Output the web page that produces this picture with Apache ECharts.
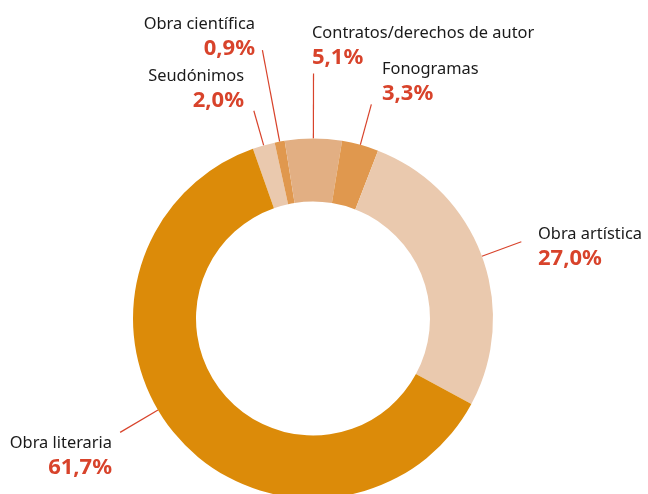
<!DOCTYPE html>
<html>
<head>
<meta charset="utf-8">
<script src="https://cdn.jsdelivr.net/npm/echarts@6/dist/echarts.min.js"></script>
<style>
  html, body { margin: 0; padding: 0; background: #ffffff; }
  #chart { width: 648px; height: 494px; }
</style>
</head>
<body>
<div id="chart"></div>
<script>
// Registro por tipo de obra (%)
const categories = ['Seudónimos', 'Obra científica', 'Contratos/derechos de autor', 'Fonogramas', 'Obra artística', 'Obra literaria'];
const shares = [2.0, 0.9, 5.1, 3.3, 27.0, 61.7];
const sliceColors = ['#EAC9AE', '#E0984E', '#E2AF83', '#E0984E', '#EAC9AE', '#DC8B09'];

// Ring geometry and label placement (leader length beyond the ring, angular nudge, label box)
const CENTER = [313, 318.5];
const RADIUS = [117, 180];
const START_ANGLE = 109.5;
const labelPlacement = [
  { len: 36, shift: 0,   x: 244, y: 65,  align: 'right' },
  { len: 93, shift: 0,   x: 255, y: 13,  align: 'right' },
  { len: 65, shift: 0,   x: 312, y: 22,  align: 'left' },
  { len: 42, shift: 0,   x: 382, y: 58,  align: 'left' },
  { len: 42, shift: 0,   x: 538, y: 223, align: 'left' },
  { len: 44, shift: -10, x: 112, y: 432, align: 'right' }
];

const RED = '#D8432B';
const FONT = '"Noto Sans", "Open Sans", sans-serif';

const total = shares.reduce((a, b) => a + b, 0);
let acc = 0;
const midAngles = shares.map(v => {
  const a = START_ANGLE - (acc + v / 2) / total * 360;
  acc += v;
  return a;
});

function fmt(v) {
  return v.toFixed(1).replace('.', ',') + '%';
}

const chart = echarts.init(document.getElementById('chart'));
chart.setOption({
  backgroundColor: '#ffffff',
  animation: false,
  series: [{
    type: 'pie',
    center: CENTER,
    radius: RADIUS,
    startAngle: START_ANGLE,
    clockwise: true,
    avoidLabelOverlap: false,
    data: categories.map((name, i) => ({
      name: name,
      value: shares[i],
      itemStyle: { color: sliceColors[i] }
    })),
    itemStyle: { borderWidth: 0 },
    emphasis: { disabled: true },
    label: {
      show: true,
      position: 'outside',
      fontFamily: FONT,
      formatter: p => `{n|${p.name}}\n{v|${fmt(p.value)}}`,
      rich: {
        n: { fontFamily: FONT, fontSize: 16.4, lineHeight: 22, color: '#1a1a1a' },
        v: { fontFamily: FONT, fontSize: 22, fontWeight: 'bold', lineHeight: 27, color: RED }
      }
    },
    labelLine: {
      show: true,
      length: 10,
      length2: 0,
      smooth: false,
      lineStyle: { color: RED, width: 1.2 }
    },
    labelLayout: params => {
      const i = params.dataIndex;
      const cfg = labelPlacement[i];
      const ang = (midAngles[i] + cfg.shift) * Math.PI / 180;
      const r0 = RADIUS[1];
      const r1 = RADIUS[1] + cfg.len;
      const p0 = [CENTER[0] + r0 * Math.cos(ang), CENTER[1] - r0 * Math.sin(ang)];
      const p1 = [CENTER[0] + r1 * Math.cos(ang), CENTER[1] - r1 * Math.sin(ang)];
      return {
        x: cfg.x,
        y: cfg.y,
        align: cfg.align,
        verticalAlign: 'top',
        labelLinePoints: [p0, p1, p1]
      };
    }
  }]
});
</script>
</body>
</html>
